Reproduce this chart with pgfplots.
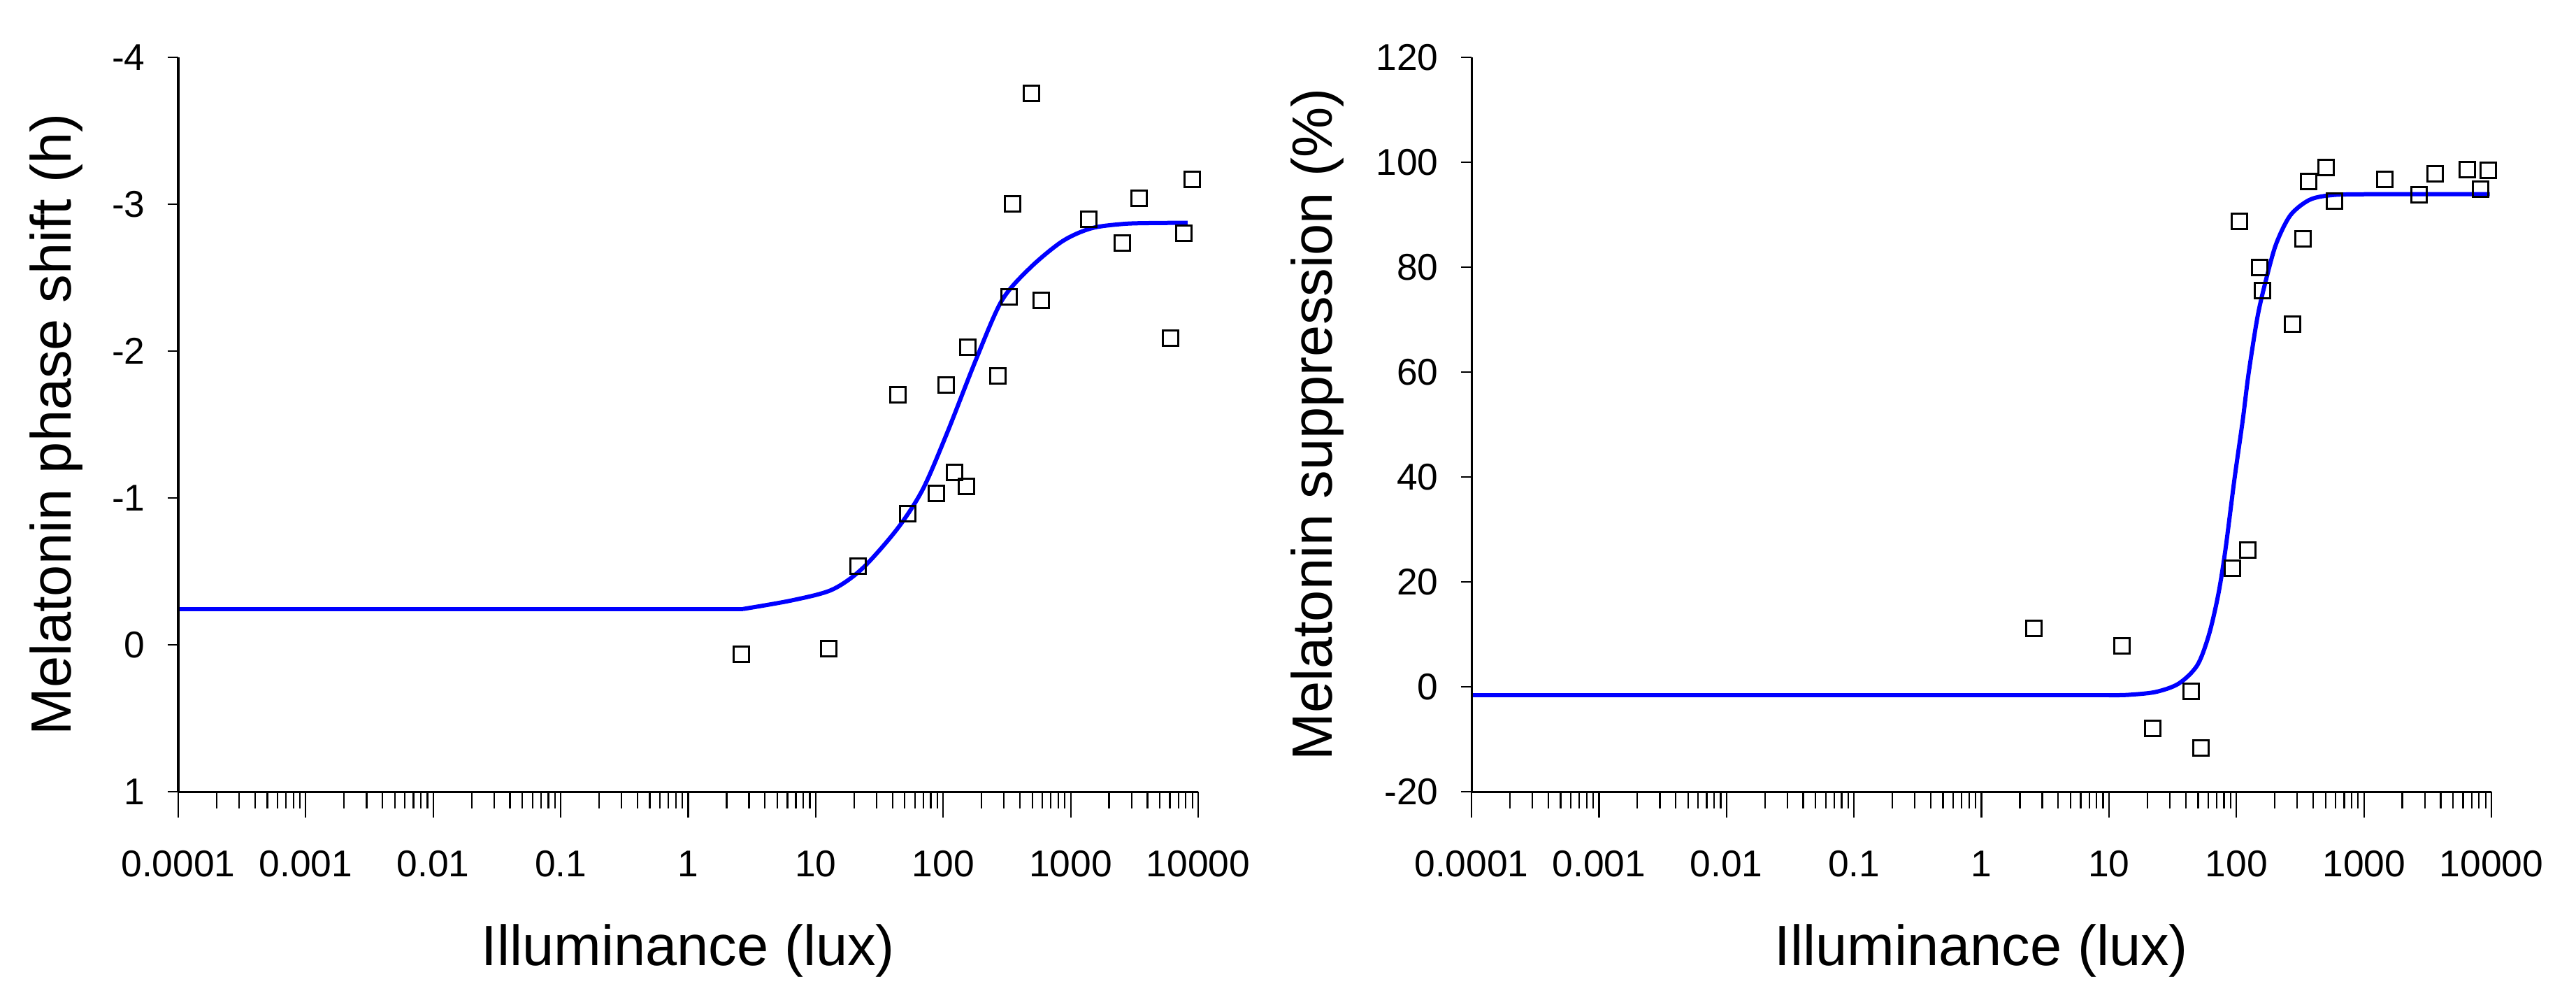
\documentclass[border=0pt]{standalone}
\usepackage{fontspec}
\setmainfont{Liberation Sans}
\usepackage{pgfplots}
\pgfplotsset{compat=1.18}

\pgfplotsset{
  panelx/.style={
    scale only axis, width=291.8bp, height=210bp,
    xmin=1e-4, xmax=1e4,
    axis x line*=bottom, axis y line*=left,
    axis line style={-, line width=0.6bp, black},
    tick align=outside,
    tick style={line width=0.45bp, black},
    major tick length=7.4bp, minor tick length=4.8bp,
    xtick={1e-4,1e-3,1e-2,1e-1,1,10,100,1000,10000},
    xticklabels={0.0001,0.001,0.01,0.1,1,10,100,1000,10000},
    minor xtick={2e-4,3e-4,4e-4,5e-4,6e-4,7e-4,8e-4,9e-4,
                 2e-3,3e-3,4e-3,5e-3,6e-3,7e-3,8e-3,9e-3,
                 2e-2,3e-2,4e-2,5e-2,6e-2,7e-2,8e-2,9e-2,
                 2e-1,3e-1,4e-1,5e-1,6e-1,7e-1,8e-1,9e-1,
                 2,3,4,5,6,7,8,9,20,30,40,50,60,70,80,90,
                 200,300,400,500,600,700,800,900,
                 2000,3000,4000,5000,6000,7000,8000,9000},
    ytick=\empty,
    xticklabel style={font=\fontsize{10.7}{12}\selectfont, yshift=-6bp},
    xlabel={Illuminance (lux)},
    xlabel style={font=\fontsize{16.3}{18}\selectfont, yshift=-6.6bp},
    clip=false,
  },
  panely/.style={
    scale only axis, width=291.8bp, height=210bp,
    xmin=0, xmax=1,
    axis x line=none, axis y line*=left,
    axis line style={-, line width=0.6bp, black},
    tick align=outside,
    tick style={line width=0.45bp, black},
    major tick length=3bp,
    xtick=\empty,
    yticklabel style={font=\fontsize{10.7}{12}\selectfont, xshift=-3bp},
    ylabel style={font=\fontsize{16.3}{18}\selectfont, anchor=center},
  },
}

\begin{document}
\begin{tikzpicture}
\path[use as bounding box] (-51bp,-57bp) rectangle (686bp,226.4bp);

% ---------- left panel ----------
\begin{axis}[xmode=log, panelx, at={(0bp,0bp)}, anchor=south west,
  ymin=-4, ymax=1, y dir=reverse]
\addplot[only marks, mark=square, mark size=2.2bp, mark options={line width=0.6bp, black, fill=none}]
 coordinates {
 (2.62,0.065) (12.6,0.025) (21.5,-0.537) (44.4,-1.703) (52.9,-0.895)
 (88.7,-1.029) (106,-1.767) (123,-1.175) (153,-1.080) (157,-2.025)
 (267,-1.830) (327,-2.371) (352,-3.001) (492,-3.756) (590,-2.343)
 (1393,-2.897) (2552,-2.737) (3460,-3.039) (6100,-2.090) (7690,-2.802)
 (9020,-3.169)};
\addplot[blue, line width=1.2bp] coordinates {
 (0.0001,-0.244) (2.69,-0.244)};
\addplot[blue, line width=1.2bp, smooth, tension=0.5] coordinates {
 (2.69,-0.244) (6.53,-0.303) (13.4,-0.375) (23.1,-0.518)
 (43.4,-0.787) (69.0,-1.057) (107,-1.44) (181.6,-1.946) (288,-2.343)
 (478,-2.565) (861,-2.748) (1450,-2.836) (2600,-2.866) (4500,-2.872) (8260,-2.873)};
\end{axis}
\begin{axis}[panely, at={(0bp,0bp)}, anchor=south west,
  ymin=-4, ymax=1, y dir=reverse,
  ytick={-4,-3,-2,-1,0,1}, yticklabels={-4,-3,-2,-1,0,1},
  ylabel={Melatonin phase shift (h)},
  ylabel style={at={(axis description cs:-0.1199,0.5)}}]
\end{axis}

% ---------- right panel ----------
\begin{axis}[xmode=log, panelx, at={(370bp,0bp)}, anchor=south west,
  ymin=-20, ymax=120]
\addplot[only marks, mark=square, mark size=2.2bp, mark options={line width=0.6bp, black, fill=none}]
 coordinates {
 (2.59,11.1) (12.6,7.8) (22.1,-7.9) (44.4,-0.8) (52.5,-11.6)
 (93.3,22.6) (106,88.7) (123,26.1) (153,80.0) (161,75.6)
 (274,69.2) (334,85.4) (366,96.3) (502,99.0) (590,92.6)
 (1459,96.7) (2705,93.8) (3630,97.8) (6500,98.6) (8180,94.9)
 (9480,98.5)};
\addplot[blue, line width=1.2bp] coordinates {
 (0.0001,-1.6) (10,-1.6)};
\addplot[blue, line width=1.2bp, smooth, tension=0.5] coordinates {
 (10,-1.6) (13.9,-1.55) (23.1,-1.0) (35.2,0.6) (49.3,4.1) (60.8,9.9)
 (71.9,17.5) (81.7,25.9) (96.6,39.7) (112,50.8) (124.5,59.7) (147,70.8)
 (174,78.4) (206,84.6) (265,89.9) (372,92.8) (543,93.7) (1000,93.9) (9700,93.9)};
\end{axis}
\begin{axis}[panely, at={(370bp,0bp)}, anchor=south west,
  ymin=-20, ymax=120,
  ytick={-20,0,20,40,60,80,100,120}, yticklabels={-20,0,20,40,60,80,100,120},
  ylabel={Melatonin suppression (\%)},
  ylabel style={at={(axis description cs:-0.1508,0.5)}}]
\end{axis}
\end{tikzpicture}
\end{document}
